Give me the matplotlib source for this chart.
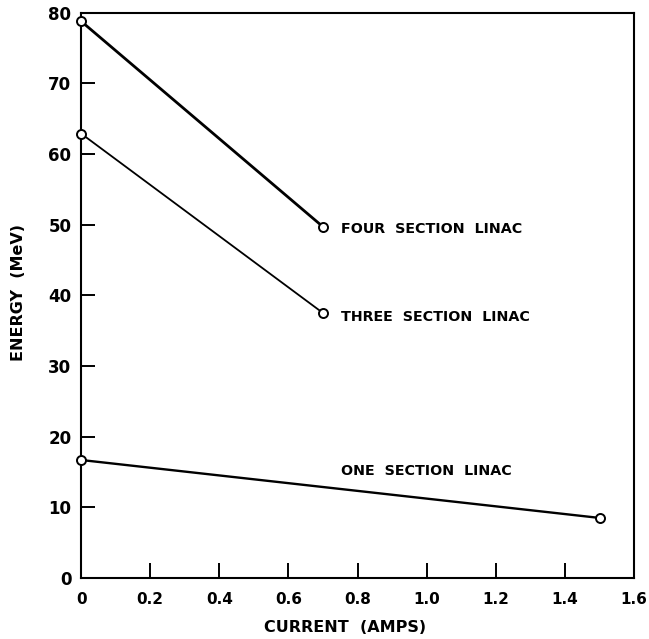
import matplotlib.pyplot as plt

# data
current_four = [0.0, 0.7]
energy_four = [78.8, 49.7]
current_three = [0.0, 0.7]
energy_three = [62.9, 37.5]
current_one = [0.0, 1.5]
energy_one = [16.7, 8.5]

labels = ['FOUR  SECTION  LINAC', 'THREE  SECTION  LINAC', 'ONE  SECTION  LINAC']
label_x = [0.752, 0.752, 0.752]
label_y = [49.4, 37.0, 15.1]

x_ticks = [0, 0.2, 0.4, 0.6, 0.8, 1.0, 1.2, 1.4, 1.6]
x_tick_labels = ['0', '0.2', '0.4', '0.6', '0.8', '1.0', '1.2', '1.4', '1.6']
y_ticks = [0, 10, 20, 30, 40, 50, 60, 70, 80]

fig = plt.figure(figsize=(6.49, 6.39), dpi=100)
ax = fig.add_axes([0.125, 0.0955, 0.852, 0.8845])

# line width differs a bit per curve in the original drawing
series = [(current_four, energy_four, 2.0), (current_three, energy_three, 1.3), (current_one, energy_one, 1.7)]
for xs, ys, lw in series:
	ax.plot(xs, ys, color='black', lw=lw, marker='o', ms=6.5, mfc='white', mec='black', mew=1.4,
			clip_on=False, zorder=3)

for txt, tx, ty in zip(labels, label_x, label_y):
	ax.text(tx, ty, txt, fontsize=10.3, va='center', ha='left', fontweight='semibold')

ax.set_xlim(0, 1.6)
ax.set_ylim(0, 80)
ax.set_xticks(x_ticks)
ax.set_xticklabels(x_tick_labels, fontsize=11, fontweight='bold')
ax.set_yticks(y_ticks)
ax.set_yticklabels([str(v) for v in y_ticks], fontsize=12, fontweight='bold')
ax.tick_params(axis='x', direction='in', length=11, width=1.4, pad=10)
ax.tick_params(axis='y', direction='in', length=10, width=1.4, pad=7)

for s in ax.spines.values():
	s.set_linewidth(1.5)

ax.set_xlabel('CURRENT  (AMPS)', fontsize=11.5, fontweight='semibold')
ax.xaxis.set_label_coords(0.477, -0.074)
ax.set_ylabel('ENERGY  (MeV)', fontsize=11.5, fontweight='semibold')
ax.yaxis.set_label_coords(-0.100, 0.505)

fig.savefig('out.png', dpi=100)
